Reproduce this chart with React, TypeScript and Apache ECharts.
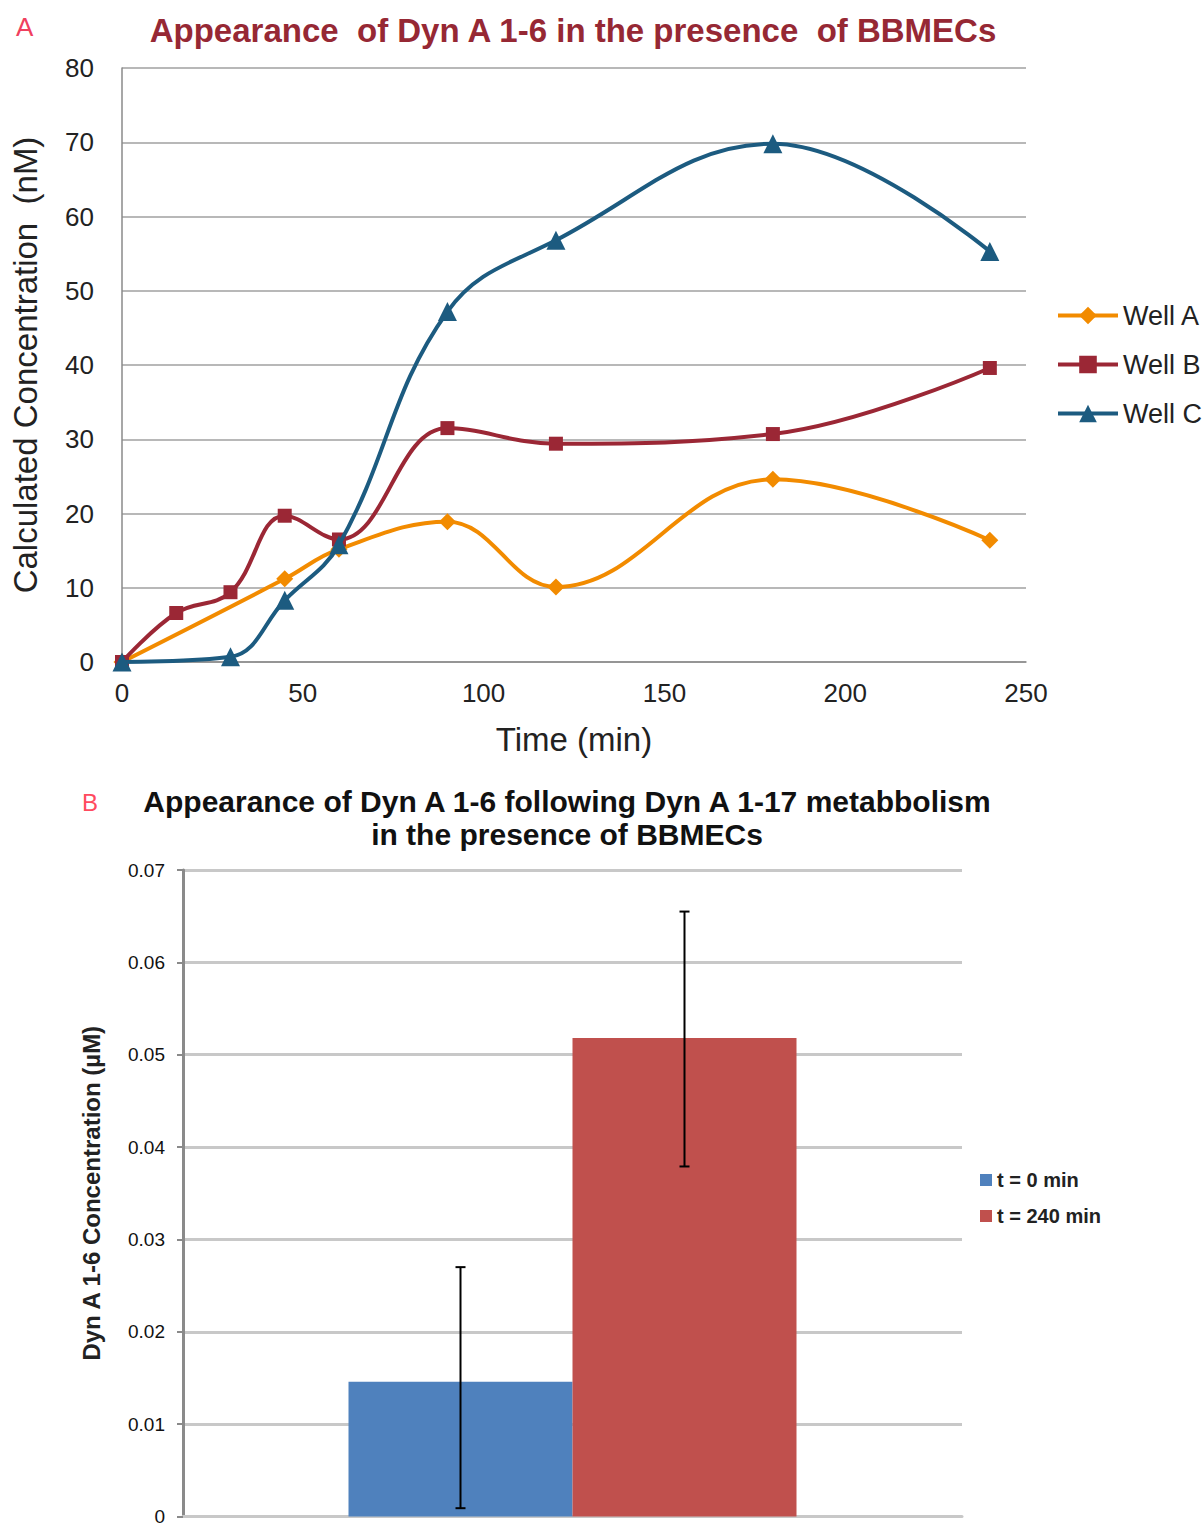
import React, { useEffect, useRef } from "react";
import * as echarts from "echarts";

// ---------- Panel A data ----------
const titleA = "Appearance  of Dyn A 1-6 in the presence  of BBMECs";
const xNameA = "Time (min)";
const yNameA = "Calculated Concentration  (nM)";
const wellNames = ["Well A", "Well B", "Well C"];
const timeWellA = [0, 45, 60, 90, 120, 180, 240];
const valWellA = [0, 11.2, 15.2, 18.9, 10.1, 24.6, 16.4];
const timeWellB = [0, 15, 30, 45, 60, 90, 120, 180, 240];
const valWellB = [0, 6.6, 9.4, 19.7, 16.5, 31.5, 29.4, 30.7, 39.6];
const timeWellC = [0, 30, 45, 60, 90, 120, 180, 240];
const valWellC = [0, 0.7, 8.3, 15.8, 47.2, 56.8, 69.8, 55.3];

// ---------- Panel B data ----------
const titleB = "Appearance of Dyn A 1-6 following Dyn A 1-17 metabbolism\nin the presence of BBMECs";
const yNameB = "Dyn A 1-6 Concentration (\u00b5M)";
const barCategories = [""];
const barNames = ["t = 0 min", "t = 240 min"];
const barValues = [0.0146, 0.0518];
const errLow = [0.0009, 0.0379];
const errHigh = [0.027, 0.0655];

const FONT = '"Liberation Sans", Arial, sans-serif';
const colorsA = ["#F28B00", "#9B2735", "#1C5B80"];
const symbolsA = ["diamond", "rect", "triangle"];
const symbolSizesA = [17, 14, 19];
const colorsB = ["#4F81BD", "#C0504D"];
const BAR_W = 224;

export default function App() {
  const ref = useRef<HTMLDivElement>(null);
  useEffect(() => {
    if (!ref.current) return;
    const chart = echarts.init(ref.current, undefined, { renderer: "svg" });

    const wellTimes = [timeWellA, timeWellB, timeWellC];
    const wellVals = [valWellA, valWellB, valWellC];

    const lineSeries = wellNames.map((name, i) => ({
      name,
      type: "line",
      xAxisIndex: 0,
      yAxisIndex: 0,
      smooth: 0.4,
      symbol: symbolsA[i],
      symbolSize: symbolSizesA[i],
      showAllSymbol: true,
      lineStyle: { color: colorsA[i], width: 4 },
      itemStyle: { color: colorsA[i] },
      data: wellTimes[i].map((t, k) => [t, wellVals[i][k]]),
      z: 3 + i,
    }));

    const barSeries = barNames.map((name, i) => ({
      name,
      type: "bar",
      xAxisIndex: 1,
      yAxisIndex: 1,
      barWidth: BAR_W,
      barGap: "0%",
      itemStyle: { color: colorsB[i] },
      data: [barValues[i]],
    }));

    const errSeries = {
      type: "custom",
      xAxisIndex: 1,
      yAxisIndex: 1,
      z: 10,
      clip: false,
      encode: { x: 0, y: [1, 2] },
      data: barNames.map((_, i) => [0, errLow[i], errHigh[i], i]),
      renderItem: (params: any, api: any) => {
        const lo = api.coord([api.value(0), api.value(1)]);
        const hi = api.coord([api.value(0), api.value(2)]);
        const n = barNames.length;
        const x = lo[0] + (api.value(3) - (n - 1) / 2) * BAR_W;
        const cap = 5;
        const style = { stroke: "#000", lineWidth: 2 };
        return {
          type: "group",
          children: [
            { type: "line", shape: { x1: x, y1: lo[1], x2: x, y2: hi[1] }, style },
            { type: "line", shape: { x1: x - cap, y1: hi[1], x2: x + cap, y2: hi[1] }, style },
            { type: "line", shape: { x1: x - cap, y1: lo[1], x2: x + cap, y2: lo[1] }, style },
          ],
        };
      },
    };

    chart.setOption({
      animation: false,
      backgroundColor: "#ffffff",
      textStyle: { fontFamily: FONT },
      graphic: [
        {
          type: "text",
          left: 16,
          top: 14,
          style: { text: "A", font: `26px ${FONT}`, fill: "#F0405E" },
        },
        {
          type: "text",
          x: 573,
          y: 30,
          style: {
            text: titleA,
            font: `bold 33px ${FONT}`,
            fill: "#962834",
            textAlign: "center",
            textVerticalAlign: "middle",
          },
        },
        {
          type: "text",
          left: 82,
          top: 790,
          style: { text: "B", font: `24px ${FONT}`, fill: "#FF4A5E" },
        },
        {
          type: "text",
          x: 567,
          y: 818,
          style: {
            text: titleB,
            font: `bold 30px ${FONT}`,
            fill: "#111",
            textAlign: "center",
            textVerticalAlign: "middle",
            lineHeight: 33,
          },
        },
      ],
      legend: [
        {
          data: wellNames,
          orient: "vertical",
          left: 1056,
          top: 302,
          padding: 0,
          itemWidth: 60,
          itemHeight: 22,
          itemGap: 22,
          lineStyle: { width: 4 },
          textStyle: { fontSize: 27, color: "#222", fontFamily: FONT },
        },
        {
          data: barNames,
          orient: "vertical",
          left: 980,
          top: 1170,
          padding: 0,
          icon: "rect",
          itemWidth: 12,
          itemHeight: 12,
          itemGap: 16,
          textStyle: { fontSize: 20, fontWeight: "bold", color: "#222", fontFamily: FONT },
        },
      ],
      grid: [
        { left: 122, top: 68, width: 904, height: 594, containLabel: false },
        { left: 183, top: 870, width: 779, height: 651, containLabel: false },
      ],
      xAxis: [
        {
          gridIndex: 0,
          type: "value",
          min: 0,
          max: 250,
          interval: 50,
          name: xNameA,
          nameLocation: "middle",
          nameGap: 61,
          nameTextStyle: { fontSize: 33, color: "#222", fontFamily: FONT },
          axisLine: { show: true, lineStyle: { color: "#8a8a8a", width: 1.5 } },
          axisTick: { show: false },
          splitLine: { show: false },
          axisLabel: { fontSize: 26, color: "#222", margin: 18, fontFamily: FONT },
        },
        {
          gridIndex: 1,
          type: "category",
          data: barCategories,
          axisLine: { show: true, lineStyle: { color: "#c8c8c8", width: 3 } },
          axisTick: { show: false },
          axisLabel: { show: false },
          splitLine: { show: false },
        },
      ],
      yAxis: [
        {
          gridIndex: 0,
          type: "value",
          min: 0,
          max: 80,
          interval: 10,
          name: yNameA,
          nameLocation: "middle",
          nameGap: 80,
          nameTextStyle: { fontSize: 33, color: "#222", fontFamily: FONT },
          axisLine: { show: true, lineStyle: { color: "#8a8a8a", width: 1.5 } },
          axisTick: { show: false },
          splitLine: { show: true, lineStyle: { color: "#a0a0a0", width: 1.5 } },
          axisLabel: { fontSize: 26, color: "#222", margin: 28, fontFamily: FONT },
        },
        {
          gridIndex: 1,
          type: "value",
          min: 0,
          max: 0.07,
          interval: 0.01,
          name: yNameB,
          nameLocation: "middle",
          nameGap: 80,
          nameTextStyle: { fontSize: 24, fontWeight: "bold", color: "#222", fontFamily: FONT },
          axisLine: { show: true, lineStyle: { color: "#8a8a8a", width: 3 } },
          axisTick: { show: true, length: 6, lineStyle: { color: "#8a8a8a", width: 2 } },
          splitLine: { show: true, lineStyle: { color: "#c8c8c8", width: 3 } },
          axisLabel: { fontSize: 19, color: "#111", margin: 18, fontFamily: FONT },
        },
      ],
      series: [...lineSeries, ...barSeries, errSeries],
    });

    return () => chart.dispose();
  }, []);

  return (
    <div
      ref={ref}
      style={{ position: "absolute", left: 0, top: 0, width: 1204, height: 1526 }}
    />
  );
}
